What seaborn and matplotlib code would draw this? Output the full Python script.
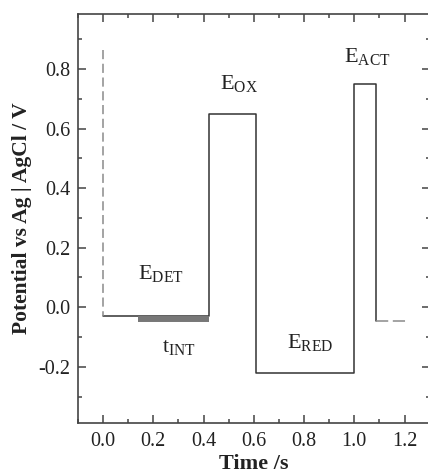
import matplotlib
matplotlib.use("Agg")
import matplotlib.pyplot as plt
import seaborn as sns
from matplotlib.ticker import MultipleLocator

# ---- data ----
step_time = [0.0, 0.42, 0.42, 0.61, 0.61, 1.0, 1.0, 1.085, 1.085]
step_pot = [-0.03, -0.03, 0.65, 0.65, -0.22, -0.22, 0.75, 0.75, -0.046]
pre_time = [0.0, 0.0]
pre_pot = [0.865, -0.03]
post_time = [1.085, 1.21]
post_pot = [-0.046, -0.046]
int_time = [0.14, 0.42]
int_pot = [-0.039, -0.039]
x_ticks = [0.0, 0.2, 0.4, 0.6, 0.8, 1.0, 1.2]
y_ticks = [-0.2, 0.0, 0.2, 0.4, 0.6, 0.8]

sns.set_theme(style="ticks")
plt.rcParams["font.family"] = ["Liberation Serif", "DejaVu Serif"]
plt.rcParams["mathtext.fontset"] = "custom"
plt.rcParams["mathtext.rm"] = "Liberation Serif"
plt.rcParams["mathtext.it"] = "Liberation Serif:italic"
plt.rcParams["mathtext.bf"] = "Liberation Serif:bold"

fig = plt.figure(figsize=(4.28, 4.74), dpi=100)
W, H = 428, 474
left, right, top, bottom = 78, 429.7, 14, 423
ax = fig.add_axes([left / W, 1 - bottom / H, (right - left) / W, (bottom - top) / H])

line_col = "#333333"
dash_col = "#8a8a8a"

sns.lineplot(x=step_time, y=step_pot, sort=False, estimator=None, ax=ax,
             color=line_col, linewidth=1.1)
sns.lineplot(x=pre_time, y=pre_pot, sort=False, estimator=None, ax=ax,
             color=dash_col, linewidth=1.1)
ax.lines[-1].set_dashes([6, 3])
sns.lineplot(x=post_time, y=post_pot, sort=False, estimator=None, ax=ax,
             color=dash_col, linewidth=1.1)
ax.lines[-1].set_dashes([8, 3])
sns.lineplot(x=int_time, y=int_pot, sort=False, estimator=None, ax=ax,
             color="#777777", linewidth=4.3, solid_capstyle="butt")

ax.set_xlim(-0.1, 1.3)
ax.set_ylim(-0.389, 0.985)
ax.set_xticks(x_ticks)
ax.set_xticklabels([f"{v:.1f}" for v in x_ticks])
ax.set_yticks(y_ticks)
ax.set_yticklabels([f"{v:.1f}" for v in y_ticks])
ax.xaxis.set_minor_locator(MultipleLocator(0.1))
ax.yaxis.set_minor_locator(MultipleLocator(0.1))
ax.tick_params(which="both", direction="in", top=True, right=True,
               color="#444444", width=1.1, labelsize=14.5, labelcolor="#222222")
ax.tick_params(which="major", length=6)
ax.tick_params(which="minor", length=2.8)
ax.tick_params(axis="x", which="major", pad=6.5)
ax.tick_params(axis="y", which="major", pad=5.5)
for s in ax.spines.values():
    s.set_color("#444444")
    s.set_linewidth(1.2)

ax.set_xlabel("Time /s", fontsize=16, fontweight="bold", color="#222222")
ax.set_ylabel("Potential vs Ag | AgCl / V", fontsize=15.5, fontweight="bold",
              color="#222222")
ax.xaxis.set_label_coords(0.5, -0.077)
ax.yaxis.set_label_coords(-0.16, 0.5)
ax.yaxis.label.set_va("center")

tkw = dict(fontsize=16, color="#222222", ha="left", va="baseline")
ax.text(0.14, 0.094, r"E$_{\mathrm{DET}}$", **tkw)
ax.text(0.233, -0.149, r"t$_{\mathrm{INT}}$", **tkw)
ax.text(0.466, 0.732, r"E$_{\mathrm{OX}}$", **tkw)
ax.text(0.957, 0.825, r"E$_{\mathrm{ACT}}$", **tkw)
ax.text(0.73, -0.138, r"E$_{\mathrm{RED}}$", **tkw)

fig.savefig("out.png", dpi=100)
